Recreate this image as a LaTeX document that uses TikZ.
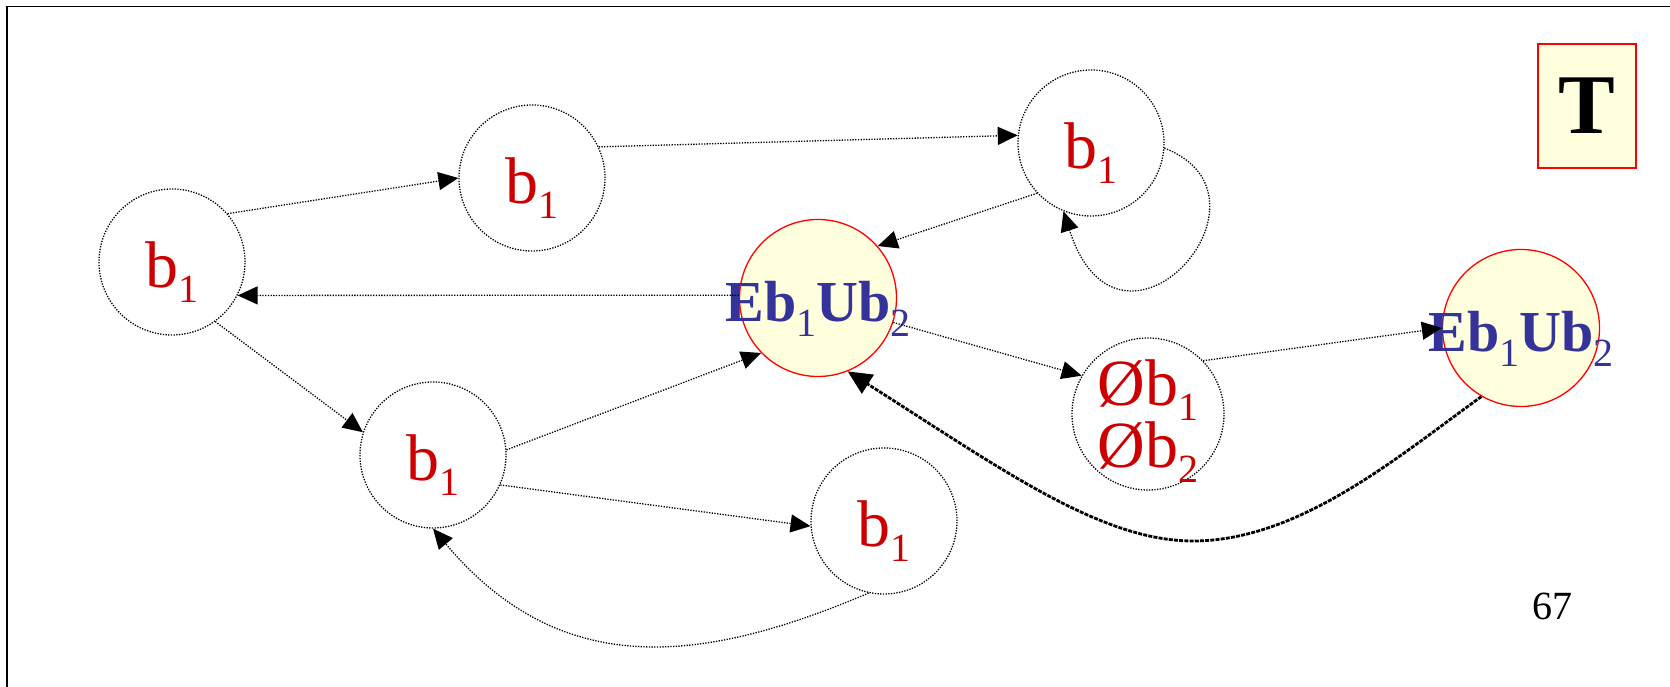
\documentclass[tikz,border=0pt]{standalone}
\usepackage{fontspec}
\setmainfont{Liberation Serif}
\usetikzlibrary{arrows.meta}

\definecolor{statered}{RGB}{204,0,0}
\definecolor{setblue}{RGB}{51,51,153}
\definecolor{paleyellow}{RGB}{255,255,221}

\newcommand{\lowsub}[1]{\raisebox{-15pt}[0pt][0pt]{\normalfont\fontsize{40}{40}\selectfont #1}}

\begin{document}
\begin{tikzpicture}[
    x=1pt, y=1pt,
    state/.style={circle, draw, dash pattern=on 1.3pt off 1.4pt, line width=1.3pt,
        minimum size=146pt, inner sep=0pt, text=statered,
        font=\fontsize{66}{62}\selectfont, text height=54pt, text depth=2pt},
    merged/.style={circle, draw=red, line width=1.3pt, fill=paleyellow,
        minimum size=157pt, inner sep=0pt, text=setblue,
        font=\fontsize{58}{60}\selectfont\bfseries, text height=50pt, text depth=2pt},
    edge/.style={dash pattern=on 1.3pt off 1.4pt, line width=1.3pt,
        -{Triangle[length=20pt,width=18pt]}},
    back/.style={line width=2.8pt, dash pattern=on 4pt off 1.2pt,
        -{Triangle[length=24pt,width=22pt]}}
]
\useasboundingbox (0,0) rectangle (1670,687);

% frame
\draw[line width=1.6pt] (6.8,0) -- (6.8,680.5) -- (1670,680.5);

% states
\node[state] (A) at (172,425) {b\lowsub{1}};
\node[state] (B) at (532,509) {b\lowsub{1}};
\node[state] (C) at (1091,544) {b\lowsub{1}};
\node[state] (E) at (433,232) {b\lowsub{1}};
\node[state] (F) at (884,166) {b\lowsub{1}};
\node[state, minimum size=152pt, text height=, text depth=, align=center]
    (G) at (1148,273) {Øb\lowsub{1}\\Øb\lowsub{2}};

% merged states
\node[merged] (D) at (818,389) {\makebox[0pt]{Eb\lowsub{1}Ub\lowsub{2}}};
\node[merged] (H) at (1521,359) {\makebox[0pt]{Eb\lowsub{1}Ub\lowsub{2}}};

% tag and page number
\node[draw=red, line width=1.3pt, fill=paleyellow, minimum width=98pt,
    minimum height=124pt, font=\fontsize{85}{85}\selectfont\bfseries]
    (tag) at (1587,581) {T};
\node[font=\fontsize{40}{40}\selectfont] (page) at (1552,80.5) {67};

% transitions
\draw[edge] (A.41) -- (B.180);
\draw[edge] (B.25) -- (C.174);
\draw[edge] (C.-4) .. controls (1290,490) and (1120,300) .. (C.-112);
\draw[edge] (C.223) -- (D.41);
\draw[edge] (D.178) -- (A.-27);
\draw[edge] (D.-18) -- (G.150);
\draw[edge] (A.-54) -- (E.162);
\draw[edge] (E.4) -- (D.224);
\draw[edge] (E.-24) -- (F.184);
\draw[edge] (F.-102) .. controls (700,22) and (560,7) .. (E.-90);
\draw[edge] (G.44) -- (H.180);

% back edge
\coordinate (dip) at (1193,146);
\draw[back] (H.-120) .. controls (1400,232) and (1300,146) .. (dip)
    .. controls (1100,146) and (1000,219) .. (D.-68);

\end{tikzpicture}
\end{document}
